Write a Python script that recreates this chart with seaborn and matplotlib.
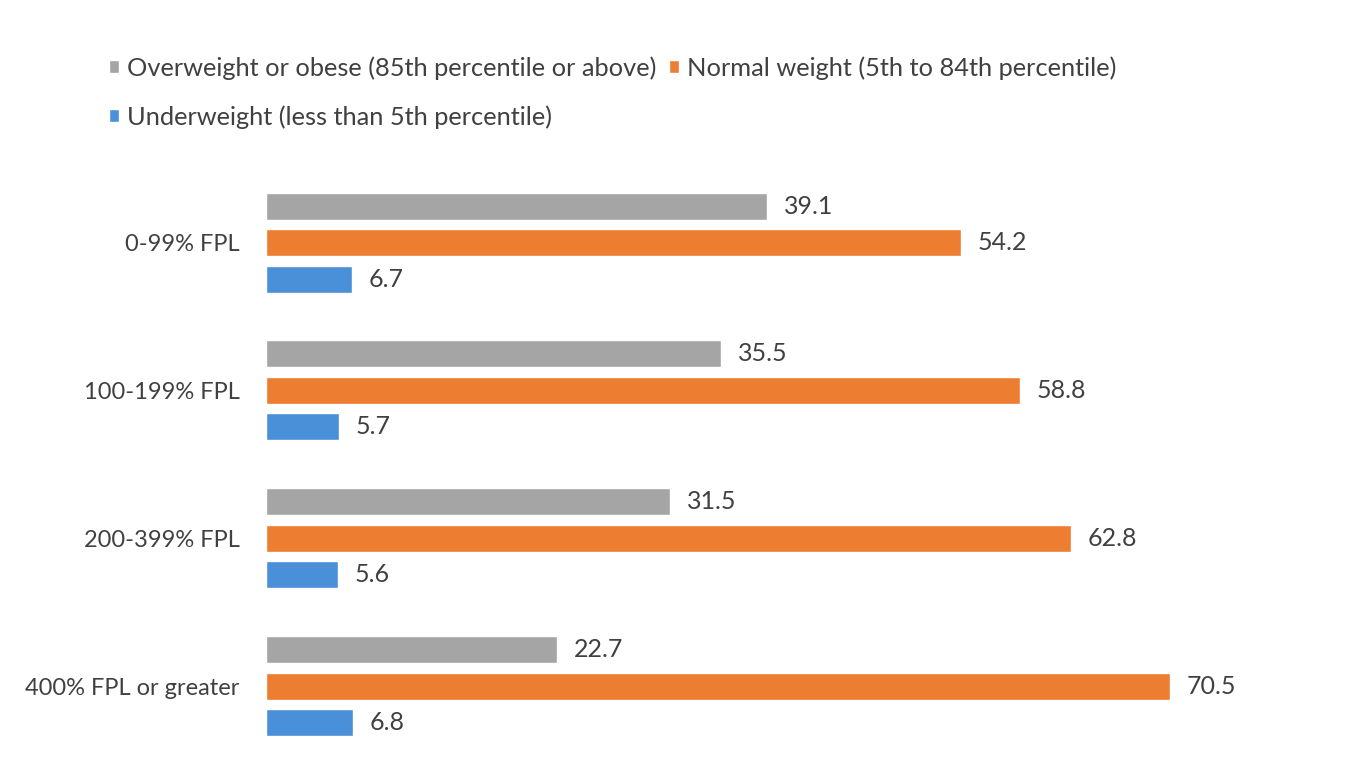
import matplotlib
matplotlib.use('Agg')
import matplotlib.pyplot as plt
import seaborn as sns
import pandas as pd

# %% Data
groups = ['0-99% FPL', '100-199% FPL', '200-399% FPL', '400% FPL or greater']
categories = ['Overweight or obese (85th percentile or above)',
              'Normal weight (5th to 84th percentile)',
              'Underweight (less than 5th percentile)']
overweight = [39.1, 35.5, 31.5, 22.7]
normal = [54.2, 58.8, 62.8, 70.5]
underweight = [6.7, 5.7, 5.6, 6.8]
colors = ['#A5A5A5', '#ED7D31', '#4A90D9']

rows = []
for cat, vals in zip(categories, [overweight, normal, underweight]):
    for g, v in zip(groups, vals):
        rows.append({'group': g, 'category': cat, 'value': v})
df = pd.DataFrame(rows)

# %% Plot
sns.set_style('white')
plt.rcParams['font.family'] = ['Lato', 'DejaVu Sans']
text_col = '#404040'

fig = plt.figure(figsize=(13.5, 7.7), dpi=100)
ax = fig.add_axes([266 / 1350, 0.013, 1026 / 1350, 0.768])

sns.barplot(data=df, y='group', x='value', hue='category', orient='h',
            palette=colors, saturation=1, width=0.74, gap=0.26, ax=ax, legend=True)

for cont in ax.containers:
    ax.bar_label(cont, fmt='%.1f', padding=12, fontsize=18, color=text_col)

ax.set_xlim(0, 80)
ax.set_ylim(3.5, -0.5)
ax.set_xlabel('')
ax.set_ylabel('')
ax.set_xticks([])
ax.tick_params(axis='y', length=0, pad=19, labelsize=17, labelcolor=text_col)
for s in ax.spines.values():
    s.set_visible(False)

handles, labels = ax.get_legend_handles_labels()
ax.get_legend().remove()
order = [0, 2, 1]
fig.legend([handles[i] for i in order], [labels[i] for i in order],
           loc='upper left', bbox_to_anchor=(0.064, 0.957), ncol=2, frameon=False,
           fontsize=18.3, labelcolor=text_col, handlelength=0.4, handleheight=0.4,
           handletextpad=0.3, columnspacing=0.5, labelspacing=1.0)

plt.savefig('out.png', dpi=100, facecolor='white')
plt.close()
